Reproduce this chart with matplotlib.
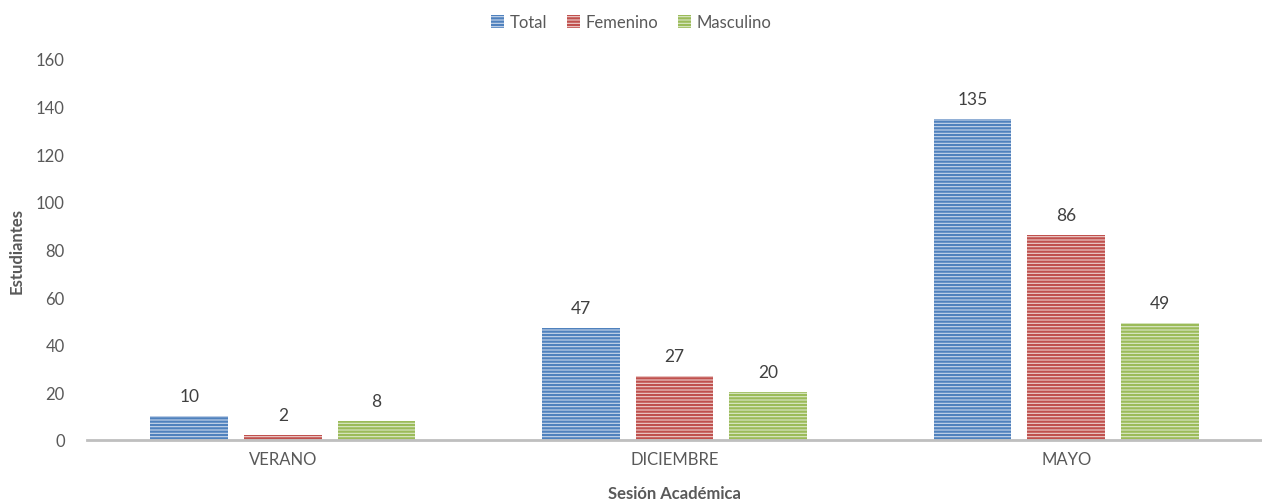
import matplotlib
matplotlib.use("Agg")
import matplotlib.pyplot as plt
import numpy as np

categories = ["VERANO", "DICIEMBRE", "MAYO"]
series_names = ["Total", "Femenino", "Masculino"]
total = [10, 47, 135]
femenino = [2, 27, 86]
masculino = [8, 20, 49]
y_ticks = [0, 20, 40, 60, 80, 100, 120, 140, 160]

plt.rcParams['font.family'] = ['Lato', 'DejaVu Sans']
plt.rcParams['hatch.linewidth'] = 1.6
txt = '#595959'

fig = plt.figure(figsize=(12.62, 5.02), dpi=100)
ax = fig.add_axes([87/1262, 61/502, 1 - 87/1262, 381/502])

x = np.arange(len(categories))
width = 0.198
offset = 0.239
series = [total, femenino, masculino]
dark = ['#4F81BD', '#C0504D', '#9BBB59']
light = ['#C9D7EB', '#EDCFCE', '#DCE8C9']
for i, (vals, dc, lc, name) in enumerate(zip(series, dark, light, series_names)):
    pos = x + (i - 1) * offset
    bars = ax.bar(pos, vals, width, color=lc, edgecolor=dc, hatch='-----', linewidth=0, label=name)
    for b, v in zip(bars, vals):
        ax.text(b.get_x() + b.get_width() / 2, v + 5, str(v), ha='center', va='bottom',
                fontsize=12.5, color='#404040')

ax.set_xlim(-0.5, 2.5)
ax.set_ylim(0, 160)
ax.set_yticks(y_ticks)
ax.set_xticks(x)
ax.set_xticklabels(categories)
for s in ['top', 'right', 'left']:
    ax.spines[s].set_visible(False)
ax.spines['bottom'].set_color('#BFBFBF')
ax.spines['bottom'].set_linewidth(2)
ax.tick_params(axis='both', length=0, labelsize=12, colors=txt, pad=8)
ax.tick_params(axis='y', pad=16)
ax.set_ylabel('Estudiantes', fontsize=12, fontweight='bold', color=txt, labelpad=8)
ax.set_xlabel('Sesión Académica', fontsize=12, fontweight='bold', color=txt, labelpad=13)
leg = fig.legend(loc='upper center', bbox_to_anchor=(0.5, 1.0), ncol=3, frameon=False,
                 fontsize=12, handlelength=0.8, handleheight=0.8, handletextpad=0.3,
                 columnspacing=1.2, labelcolor=txt)
fig.savefig('out.png', dpi=100)
